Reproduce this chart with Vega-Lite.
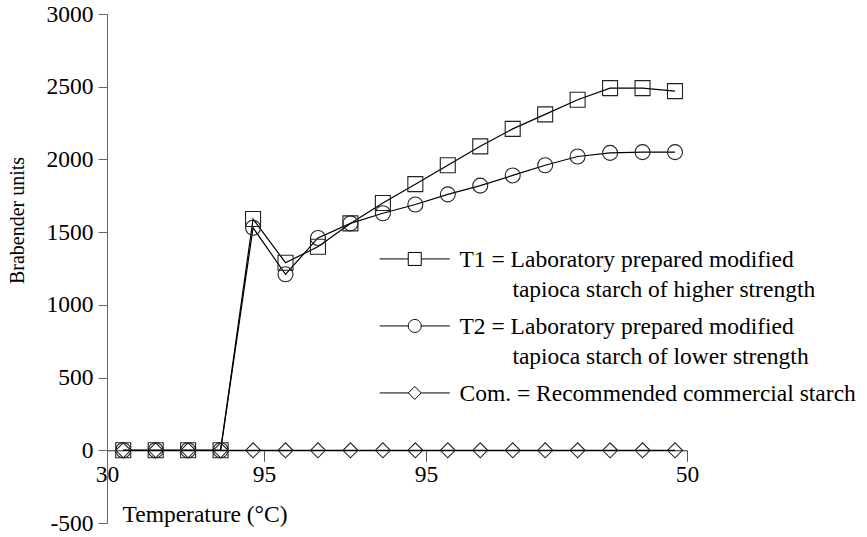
{
  "$schema": "https://vega.github.io/schema/vega-lite/v6.json",
  "width": 580,
  "height": 509,
  "autosize": {"type": "none"},
  "padding": {"left": 107, "top": 14, "right": 180, "bottom": 14},
  "background": "white",
  "config": {
    "view": {"stroke": null},
    "font": "Liberation Serif",
    "style": {"guide-label": {"lineHeight": 30}}
  },
  "datasets": {
    "curves": [
      {"t": 1, "series": "T1", "v": 0}, {"t": 2, "series": "T1", "v": 0}, {"t": 3, "series": "T1", "v": 0}, {"t": 4, "series": "T1", "v": 0},
      {"t": 5, "series": "T1", "v": 1590}, {"t": 6, "series": "T1", "v": 1290}, {"t": 7, "series": "T1", "v": 1400}, {"t": 8, "series": "T1", "v": 1560},
      {"t": 9, "series": "T1", "v": 1700}, {"t": 10, "series": "T1", "v": 1830}, {"t": 11, "series": "T1", "v": 1960}, {"t": 12, "series": "T1", "v": 2090},
      {"t": 13, "series": "T1", "v": 2210}, {"t": 14, "series": "T1", "v": 2310}, {"t": 15, "series": "T1", "v": 2410}, {"t": 16, "series": "T1", "v": 2490},
      {"t": 17, "series": "T1", "v": 2490}, {"t": 18, "series": "T1", "v": 2470},
      {"t": 1, "series": "T2", "v": 0}, {"t": 2, "series": "T2", "v": 0}, {"t": 3, "series": "T2", "v": 0}, {"t": 4, "series": "T2", "v": 0},
      {"t": 5, "series": "T2", "v": 1530}, {"t": 6, "series": "T2", "v": 1210}, {"t": 7, "series": "T2", "v": 1460}, {"t": 8, "series": "T2", "v": 1560},
      {"t": 9, "series": "T2", "v": 1630}, {"t": 10, "series": "T2", "v": 1690}, {"t": 11, "series": "T2", "v": 1760}, {"t": 12, "series": "T2", "v": 1820},
      {"t": 13, "series": "T2", "v": 1890}, {"t": 14, "series": "T2", "v": 1960}, {"t": 15, "series": "T2", "v": 2020}, {"t": 16, "series": "T2", "v": 2045},
      {"t": 17, "series": "T2", "v": 2050}, {"t": 18, "series": "T2", "v": 2050},
      {"t": 1, "series": "Com", "v": 0}, {"t": 2, "series": "Com", "v": 0}, {"t": 3, "series": "Com", "v": 0}, {"t": 4, "series": "Com", "v": 0},
      {"t": 5, "series": "Com", "v": 0}, {"t": 6, "series": "Com", "v": 0}, {"t": 7, "series": "Com", "v": 0}, {"t": 8, "series": "Com", "v": 0},
      {"t": 9, "series": "Com", "v": 0}, {"t": 10, "series": "Com", "v": 0}, {"t": 11, "series": "Com", "v": 0}, {"t": 12, "series": "Com", "v": 0},
      {"t": 13, "series": "Com", "v": 0}, {"t": 14, "series": "Com", "v": 0}, {"t": 15, "series": "Com", "v": 0}, {"t": 16, "series": "Com", "v": 0},
      {"t": 17, "series": "Com", "v": 0}, {"t": 18, "series": "Com", "v": 0}
    ]
  },
  "data": {"name": "curves"},
  "encoding": {
    "x": {
      "field": "t", "type": "quantitative",
      "scale": {"domain": [0.5, 18.37], "nice": false, "zero": false},
      "axis": {
        "values": [0.5, 5.337, 10.33, 18.37],
        "labelExpr": "datum.value < 1 ? '30' : datum.value < 8 ? '95' : datum.value < 15 ? '95' : '50'",
        "offset": -72.7,
        "grid": false,
        "tickSize": 11,
        "tickColor": "#555",
        "domainColor": "#222",
        "labelFontSize": 23.5,
        "labelPadding": 1,
        "labelColor": "black",
        "labelFont": "Liberation Serif",
        "labelFlush": false,
        "labelOverlap": false,
        "title": "Temperature (°C)",
        "titleFont": "Liberation Serif",
        "titleFontSize": 23.5,
        "titleFontWeight": "normal",
        "titleColor": "black",
        "titleX": 15,
        "titleY": 71,
        "titleAlign": "left",
        "titleAnchor": null,
        "titleBaseline": "alphabetic"
      }
    },
    "y": {
      "field": "v", "type": "quantitative",
      "scale": {"domain": [-500, 3000], "nice": false, "zero": false},
      "axis": {
        "values": [-500, 0, 500, 1000, 1500, 2000, 2500, 3000],
        "labelExpr": "datum.value < 0 ? '-' + abs(datum.value) : '' + datum.value",
        "grid": false,
        "tickSize": 9,
        "tickColor": "#666",
        "domainColor": "#666",
        "labelFontSize": 23.5,
        "labelPadding": 5,
        "labelColor": "black",
        "labelFont": "Liberation Serif",
        "labelFlush": false,
        "labelOverlap": false,
        "title": "Brabender units",
        "titleFont": "Liberation Serif",
        "titleFontSize": 20,
        "titleFontWeight": "normal",
        "titleColor": "black",
        "titleX": -90,
        "titleY": 206,
        "titleAngle": -90,
        "titleAlign": "center",
        "titleBaseline": "middle"
      }
    }
  },
  "layer": [
    {
      "mark": {"type": "line", "color": "black", "strokeWidth": 1.2},
      "encoding": {"detail": {"field": "series"}}
    },
    {
      "mark": {"type": "point", "filled": false, "stroke": "#222", "strokeWidth": 1.1, "opacity": 1, "size": 225},
      "encoding": {
        "shape": {
          "field": "series", "type": "nominal",
          "scale": {"domain": ["T1", "T2", "Com"], "range": ["square", "circle", "diamond"]},
          "legend": null
        }
      }
    },
    {
      "transform": [{"filter": "datum.t < 0"}],
      "mark": {"type": "point", "filled": false, "stroke": "black", "strokeWidth": 1, "opacity": 1},
      "encoding": {
        "shape": {
          "field": "series", "type": "nominal",
          "scale": {
            "domain": ["T1", "T2", "Com"],
            "range": [
              "M-5.4,-1.2H-1M1,-1.2H5.4M-1,-2.2H1V-0.2H-1Z",
              "M-5.4,-1.2H-1M1,-1.2H5.4M-1,-1.2A1,1,0,1,0,1,-1.2A1,1,0,1,0,-1,-1.2Z",
              "M-5.4,-1.2H-1M1,-1.2H5.4M-1,-1.2L0,-2.2L1,-1.2L0,-0.2Z"
            ]
          },
          "legend": {
            "orient": "none",
            "legendX": 296,
            "legendY": 241,
            "title": null,
            "padding": 0,
            "symbolSize": 169,
            "symbolStrokeWidth": 1,
            "symbolStrokeColor": "black",
            "symbolFillColor": "transparent",
            "labelFontSize": 23.5,
            "labelFont": "Liberation Serif",
            "labelColor": "black",
            "labelLimit": 0,
            "labelOffset": 33,
            "labelBaseline": "alphabetic",
            "rowPadding": 12,
            "labelExpr": "datum.value === 'T1' ? ['T1 = Laboratory prepared modified', '\u200b\u00a0\u00a0\u00a0\u00a0\u00a0\u00a0\u00a0\u00a0\u00a0tapioca starch of higher strength'] : datum.value === 'T2' ? ['T2 = Laboratory prepared modified', '\u200b\u00a0\u00a0\u00a0\u00a0\u00a0\u00a0\u00a0\u00a0\u00a0tapioca starch of lower strength'] : 'Com. = Recommended commercial starch'"
          }
        }
      }
    }
  ],
  "resolve": {"scale": {"shape": "independent"}, "legend": {"shape": "independent"}}
}
